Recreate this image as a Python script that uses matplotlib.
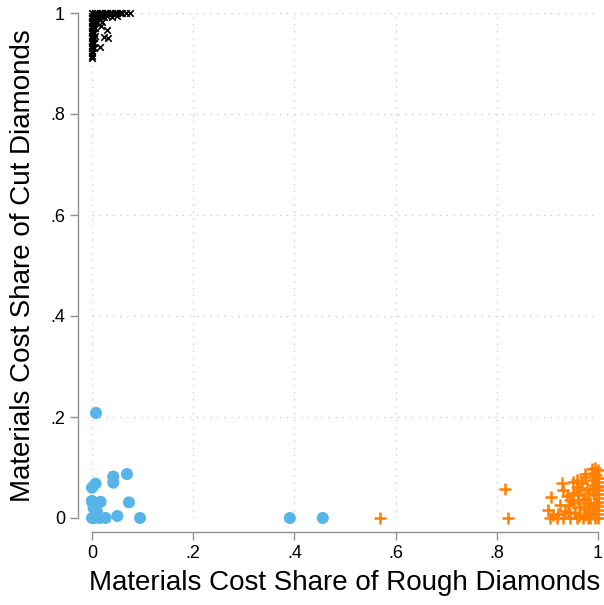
import matplotlib
matplotlib.use("Agg")
import matplotlib.pyplot as plt

# Blue circles: firms mostly using neither (x = rough share, y = cut share)
blue_x = [0.008, 0.0, 0.007, 0.042, 0.042, 0.069, 0.0, 0.017, 0.073, 0.0, 0.01, 0.027,
          0.05, 0.095, 0.004, 0.015, 0.003, 0.0, 0.391, 0.456]
blue_y = [0.208, 0.06, 0.068, 0.082, 0.07, 0.087, 0.032, 0.032, 0.031, 0.0, 0.012, 0.0,
          0.004, 0.0, 0.0, 0.0, 0.02, 0.034, 0.0, 0.0]

# Black x: cut-diamond users
black_x = [0.0, 0.0, 0.0, 0.0, 0.0, 0.0, 0.0, 0.0, 0.0, 0.0, 0.0, 0.0, 0.0, 0.0, 0.0, 0.0, 0.0, 0.0, 0.0,
           0.003, 0.003, 0.003, 0.003, 0.003, 0.003, 0.003, 0.003,
           0.005, 0.01, 0.015, 0.02, 0.025, 0.03, 0.035, 0.04, 0.045, 0.05, 0.055, 0.06, 0.068, 0.075,
           0.006, 0.012, 0.018, 0.024, 0.03, 0.04, 0.05,
           0.008, 0.014, 0.01, 0.02, 0.018, 0.029, 0.024, 0.032, 0.016, 0.006, 0.005]
black_y = [1.0, 0.995, 0.99, 0.985, 0.98, 0.975, 0.97, 0.965, 0.96, 0.955, 0.95, 0.945, 0.94, 0.935, 0.93, 0.925, 0.92, 0.915, 0.91,
           0.998, 0.99, 0.98, 0.97, 0.96, 0.95, 0.94, 0.93,
           1.0, 1.0, 1.0, 1.0, 1.0, 1.0, 1.0, 1.0, 1.0, 1.0, 1.0, 1.0, 1.0, 1.0,
           0.995, 0.995, 0.995, 0.993, 0.995, 0.993, 0.995,
           0.99, 0.988, 0.98, 0.983, 0.975, 0.966, 0.953, 0.95, 0.933, 0.97, 0.955]

# Orange plus: rough-diamond users
orange_x = [0.569, 0.816, 0.822,
            1.0, 1.0, 1.0, 1.0, 1.0, 1.0, 1.0, 1.0, 1.0, 1.0, 1.0, 1.0,
            0.994, 0.988, 0.974, 0.958, 0.951, 0.928, 0.931, 0.908, 0.968, 0.988, 0.99,
            0.945, 0.951, 0.964, 0.925, 0.902, 0.905, 0.918, 0.931, 0.945, 0.958, 0.97, 0.98,
            0.981, 0.974, 0.985, 0.993, 0.96, 0.94, 0.92, 0.912, 0.935, 0.955, 0.972, 0.99,
            0.996, 0.992, 0.978, 0.965, 0.95, 0.938, 0.984, 0.997, 0.975, 0.962, 0.985, 0.995,
            0.99, 0.98, 0.97, 0.96, 0.992, 0.998, 0.975, 0.942, 0.958]
orange_y = [0.0, 0.058, 0.0,
            0.0, 0.008, 0.016, 0.024, 0.032, 0.04, 0.048, 0.056, 0.064, 0.072, 0.08, 0.095,
            0.1, 0.098, 0.088, 0.075, 0.072, 0.069, 0.055, 0.042, 0.069, 0.075, 0.055,
            0.036, 0.029, 0.022, 0.026, 0.016, 0.0, 0.0, 0.0, 0.0, 0.0, 0.0, 0.0,
            0.049, 0.036, 0.03, 0.045, 0.045, 0.012, 0.008, 0.006, 0.014, 0.01, 0.018, 0.02,
            0.085, 0.065, 0.06, 0.055, 0.05, 0.044, 0.012, 0.03, 0.005, 0.004, 0.0, 0.0,
            0.008, 0.022, 0.038, 0.035, 0.09, 0.062, 0.082, 0.025, 0.062]

ticks = [0, 0.2, 0.4, 0.6, 0.8, 1.0]
tick_labels = ["0", ".2", ".4", ".6", ".8", "1"]

plt.rcParams['font.family'] = ['Liberation Sans', 'DejaVu Sans']

fig = plt.figure(figsize=(6.04, 6.05), dpi=100)
ax = fig.add_axes([92/604, 1-518/605, (598-92)/604, (518-13)/605])

ax.scatter(black_x, black_y, marker='x', s=22, color='black', linewidths=1.2, clip_on=False, zorder=3)
ax.scatter(blue_x, blue_y, marker='o', s=75, color='#56B4E9', edgecolors='none', clip_on=False, zorder=3)
ax.scatter(orange_x, orange_y, marker='+', s=65, color='#FF8000', linewidths=1.8, clip_on=False, zorder=3)

ax.set_xlim(0, 1)
ax.set_ylim(0, 1)
ax.set_xticks(ticks)
ax.set_xticklabels(tick_labels)
ax.set_yticks(ticks)
ax.set_yticklabels(tick_labels)
ax.grid(True, linestyle=(0, (1, 4)), color='#cccccc', linewidth=1.0)
ax.set_axisbelow(True)

for s in ['top', 'right']:
    ax.spines[s].set_visible(False)
for s in ['left', 'bottom']:
    ax.spines[s].set_position(('outward', 10))
    ax.spines[s].set_color('#909090')
    ax.spines[s].set_linewidth(1.0)
ax.tick_params(axis='both', colors='#909090', labelcolor='black', labelsize=13, length=6, width=1.0)

ax.set_xlabel("Materials Cost Share of Rough Diamonds", fontsize=20, labelpad=6)
ax.set_ylabel("Materials Cost Share of Cut Diamonds", fontsize=20, labelpad=10)

fig.savefig("out.png", dpi=100)
